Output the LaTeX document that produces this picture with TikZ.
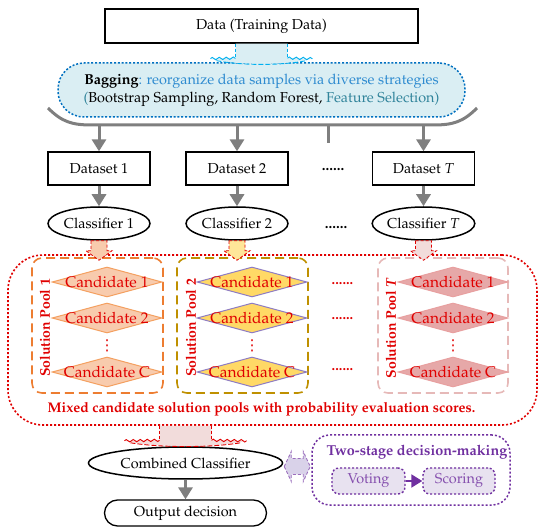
\documentclass[tikz,border=0pt]{standalone}
\usepackage[T1]{fontenc}
\usepackage{mathpazo}
\usetikzlibrary{shapes.geometric,arrows.meta,calc,decorations.pathmorphing}
\definecolor{bagfill}{HTML}{DAEEF3}
\definecolor{bagblue}{HTML}{0070C0}
\definecolor{txtblue}{HTML}{2E8BD0}
\definecolor{tealc}{HTML}{31849B}
\definecolor{cyanln}{HTML}{00B0F0}
\definecolor{arrgray}{HTML}{7F7F7F}
\definecolor{myred}{HTML}{E00000}
\definecolor{orangeln}{HTML}{ED7D31}
\definecolor{orangefill}{HTML}{F8CBAD}
\definecolor{orangedia}{HTML}{F4A060}
\definecolor{goldln}{HTML}{BF9000}
\definecolor{goldfill}{HTML}{FFD966}
\definecolor{diapurple}{HTML}{8E7CC3}
\definecolor{pinkln}{HTML}{E6B9B8}
\definecolor{pinkfill}{HTML}{E6A8A8}
\definecolor{pinkdia}{HTML}{E8A0A0}
\definecolor{yellowarr}{HTML}{FFE699}
\definecolor{pinkarr}{HTML}{F2DCDB}
\definecolor{mypurple}{HTML}{7030A0}
\definecolor{lavender}{HTML}{D9D2E9}
\definecolor{votefill}{HTML}{E8E2F0}
\font\myvdfont="DejaVu Sans" at 15pt
\newcommand{\myvdots}{{\myvdfont\char"22EE}}
\tikzset{
  box/.style={draw, line width=1.3pt, fill=white, inner sep=0pt},
  ell/.style={ellipse, draw, line width=1.5pt, fill=white, inner sep=0pt},
  bagbox/.style={draw=bagblue, fill=bagfill, line width=1.5pt, dash pattern=on 2pt off 1.8pt, rounded corners=26pt, inner sep=0pt},
  garrow/.style={draw=arrgray, line width=3pt, -{Triangle[width=14pt,length=12pt]}},
  brace/.style={draw=arrgray, line width=3pt},
  mixbox/.style={draw=myred, line width=1.6pt, dash pattern=on 2pt off 2pt, rounded corners=35pt},
  pool/.style={line width=1.6pt, dash pattern=on 9pt off 5pt, rounded corners=10pt},
  dia/.style={diamond, minimum width=110pt, minimum height=30pt, inner sep=0pt, line width=1pt},
  candtxt/.style={text=myred, font=\fontsize{15.5}{18}\selectfont, inner sep=0pt},
  poollabel/.style={text=myred, font=\fontsize{14}{16}\selectfont\bfseries, inner sep=0pt},
  reddots/.style={text=myred, font=\fontsize{14.4}{16}\selectfont\bfseries},
  vdotsty/.style={text=myred, inner sep=0pt},
  blackdots/.style={font=\fontsize{15}{16}\selectfont\bfseries},
  mixtxt/.style={text=myred, font=\fontsize{14}{16}\selectfont\bfseries},
  twobox/.style={draw=mypurple, line width=1.5pt, dash pattern=on 2pt off 2pt, rounded corners=18pt, fill=white},
  twotitle/.style={text=mypurple, font=\fontsize{14.4}{17}\selectfont\bfseries},
  vbox/.style={draw=mypurple, fill=votefill, line width=1.4pt, dash pattern=on 2pt off 2pt, rounded corners=7pt, text=mypurple!85, inner sep=0pt},
  parrow/.style={draw=mypurple, line width=2pt, -{Triangle[width=13pt,length=11pt]}},
  pics/barrow/.style={code={
    \draw[fill=#1, draw=myred, line width=0.8pt, dash pattern=on 3pt off 2pt]
      (-8,0) -- (8,0) -- (8,10) -- (13,10) -- (0,19.5) -- (-13,10) -- (-8,10) -- cycle;}},
  pics/flare/.style n args={3}{code={
    \fill[#1] (-26,0) -- (26,0) -- (26,14) -- (#3,15) .. controls (0.5*#3,22) and (-0.5*#3,22) .. (-#3,15) -- (-26,14) -- cycle;
    \draw[#2, line width=0.9pt, dash pattern=on 3pt off 2pt] (-26,0) -- (-26,14);
    \draw[#2, line width=0.9pt, dash pattern=on 3pt off 2pt] (26,0) -- (26,14);
    \draw[#2, line width=0.9pt, decorate, decoration={zigzag, amplitude=1.2pt, segment length=7pt}] (-#3,15) -- (-26,14.5);
    \draw[#2, line width=0.9pt, decorate, decoration={zigzag, amplitude=1.2pt, segment length=7pt}] (26,14.5) -- (#3,15);
    \draw[#2, line width=0.9pt, dash pattern=on 5pt off 2pt] (-#3+6,17) .. controls (-0.4*#3,22) and (0.4*#3,22) .. (#3-6,17);
  }},
  pics/darrow/.style={code={
    \draw[fill=lavender, draw=mypurple!70, line width=0.9pt, dash pattern=on 3pt off 2pt]
      (-13,0) -- (-6,-15) -- (-6,-8) -- (6,-8) -- (6,-15) -- (13,0) -- (6,15) -- (6,8) -- (-6,8) -- (-6,15) -- cycle;}}
}
\begin{document}
\begin{tikzpicture}[x=1pt, y=-1pt, font=\fontsize{14.4}{18}\selectfont]
\useasboundingbox (0,0) rectangle (550,532);

% bagging
\node[bagbox, minimum width=407pt, minimum height=54pt, align=center] (bag) at (261.5,90)
  {\textbf{Bagging}\textcolor{txtblue}{: reorganize data samples via diverse strategies}\\
   \textcolor{tealc}{(}Bootstrap Sampling, Random Forest, \textcolor{tealc}{Feature Selection)}};

% data
\node[box, minimum width=313pt, minimum height=34pt] (data) at (261.5,26) {Data (Training Data)};
\pic at (data.south) {flare={bagfill}{cyanln}{51}};

% brace
\draw[brace] (48,108) .. controls (62,122) and (72,125) .. (92,125) -- (433,125) .. controls (453,125) and (463,122) .. (477,108);
\coordinate (b1) at (99,125);
\coordinate (b2) at (237,125);
\coordinate (b3) at (423.5,125);
\coordinate (b4) at (328,125);
\coordinate (b4e) at (328,143);
\draw[brace] (b4) -- (b4e);

% datasets
\node[box, minimum width=102pt, minimum height=33pt] (ds1) at (99,168.5) {Dataset 1};
\node[box, minimum width=102pt, minimum height=33pt] (ds2) at (237,168.5) {Dataset 2};
\node[box, minimum width=102pt, minimum height=33pt] (dsT) at (423.5,168.5) {Dataset $T$};
\node[blackdots] (dots1) at (333,170) {......};
\draw[garrow] (b1) -- (ds1.north);
\draw[garrow] (b2) -- (ds2.north);
\draw[garrow] (b3) -- (dsT.north);

% classifiers
\node[ell, minimum width=102pt, minimum height=33pt] (c1) at (99,223.5) {Classifier 1};
\node[ell, minimum width=102pt, minimum height=33pt] (c2) at (237,223.5) {Classifier 2};
\node[ell, minimum width=102pt, minimum height=33pt] (cT) at (423.5,223.5) {Classifier $T$};
\node[blackdots] (dots2) at (336,228) {......};
\draw[garrow] (ds1) -- (c1);
\draw[garrow] (ds2) -- (c2);
\draw[garrow] (dsT) -- (cT);

% mixed pool
\node[mixbox, minimum width=529pt, minimum height=170pt] (mix) at (272.5,340) {};
\node[pool, draw=orangeln, minimum width=131pt, minimum height=135pt] (pool1) at (97.5,325.5) {};
\node[pool, draw=goldln, minimum width=131pt, minimum height=135pt] (pool2) at (242.5,325.5) {};
\node[pool, draw=pinkln, minimum width=130pt, minimum height=135pt] (poolT) at (443,325.5) {};

\pic at (c1.south) {barrow=orangefill};
\pic at (c2.south) {barrow=yellowarr};
\pic at (cT.south) {barrow=pinkarr};

\node[poollabel, rotate=90] (pl1) at (45,328) {Solution Pool 1};
\node[poollabel, rotate=90] (pl2) at (191,328) {Solution Pool 2};
\node[poollabel, rotate=90] (plT) at (391,328) {Solution Pool \textit{T}};

% diamonds
\foreach \nm/\cx/\fc/\dc in {p1/107/orangefill/orangedia, p2/252/goldfill/diapurple, pT/453/pinkfill/pinkdia}{
  \node[dia, fill=\fc, draw=\dc, label={[candtxt]center:Candidate 1}] (\nm a) at (\cx,282) {};
  \node[dia, fill=\fc, draw=\dc, label={[candtxt]center:Candidate 2}] (\nm b) at (\cx,318) {};
  \node[vdotsty] (\nm v) at (\cx,346) {\myvdots};
  \node[dia, fill=\fc, draw=\dc, label={[candtxt]center:Candidate C}] (\nm c) at (\cx,372) {};
}
\node[reddots] (rd1) at (342.5,284) {......};
\node[reddots] (rd2) at (342.5,319) {......};
\node[reddots] (rd3) at (342.5,370) {......};

\node[mixtxt] (mixlabel) at (261.5,409) {Mixed candidate solution pools with probability evaluation scores.};

% combined
\node[ell, minimum width=194pt, minimum height=32pt] (comb) at (185.5,463) {Combined Classifier};
\pic at (mix.south -| comb.north) {flare={pinkarr}{myred}{61}};

\node[box, rounded corners=13pt, minimum width=162pt, minimum height=26pt] (out) at (185.5,513) {Output decision};
\draw[garrow] (comb) -- (out);

% two-stage
\node[twobox, minimum width=198pt, minimum height=70pt] (two) at (411,470) {};
\node[twotitle] (twot) at (417,452) {Two-stage decision-making};
\node[vbox, minimum width=73pt, minimum height=26pt] (vote) at (368.5,481) {Voting};
\node[vbox, minimum width=72pt, minimum height=26pt] (score) at (459,481) {Scoring};
\draw[parrow] (vote) -- (score);
\pic at ($(comb.east)!0.5!(two.west)$) {darrow};
\end{tikzpicture}
\end{document}
